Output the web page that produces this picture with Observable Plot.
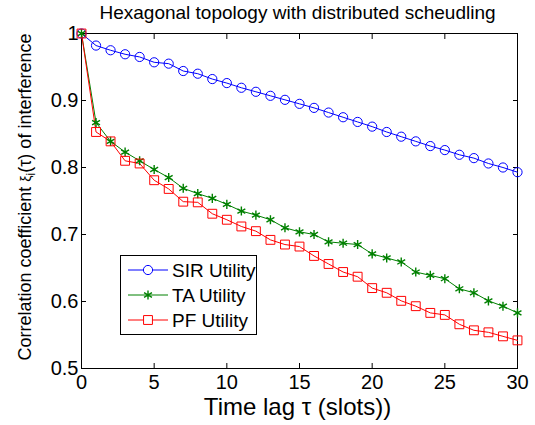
<!DOCTYPE html>
<html>
<head>
<meta charset="utf-8">
<script src="https://cdn.jsdelivr.net/npm/d3@7"></script>
<script src="https://cdn.jsdelivr.net/npm/@observablehq/plot@0.6"></script>
<style>
  html, body { margin: 0; padding: 0; background: #fff; }
  #wrap { position: relative; width: 535px; height: 425px; overflow: hidden; }
  #legend { position: absolute; left: 120px; top: 255px; }
</style>
</head>
<body>
<div id="wrap"></div>
<script>
const title = "Hexagonal topology with distributed scheudling";
const xLabel = "Time lag τ (slots))";
const yLabel = "Correlation coefficient ξi(τ) of interference";
const seriesNames = ["SIR Utility", "TA Utility", "PF Utility"];
const seriesColors = ["#0000ff", "#008000", "#ff0000"];
const seriesSymbols = ["circle", "asterisk", "square"];

const tau = [0,1,2,3,4,5,6,7,8,9,10,11,12,13,14,15,16,17,18,19,20,21,22,23,24,25,26,27,28,29,30];
const sir = [1.000,0.982,0.975,0.969,0.965,0.957,0.955,0.944,0.940,0.932,0.926,0.919,0.913,0.907,0.901,0.895,0.889,0.882,0.875,0.868,0.861,0.853,0.846,0.839,0.832,0.826,0.819,0.814,0.806,0.800,0.793];
const ta  = [1.000,0.867,0.839,0.823,0.810,0.797,0.785,0.769,0.761,0.754,0.745,0.735,0.729,0.722,0.710,0.704,0.700,0.689,0.687,0.685,0.671,0.665,0.659,0.644,0.639,0.634,0.619,0.613,0.601,0.593,0.583];
const pf  = [1.000,0.853,0.839,0.810,0.806,0.781,0.768,0.749,0.748,0.731,0.722,0.712,0.705,0.692,0.685,0.682,0.668,0.656,0.644,0.637,0.620,0.613,0.601,0.593,0.583,0.580,0.566,0.557,0.554,0.548,0.542];

const xTicks = [0, 5, 10, 15, 20, 25, 30];
const yTicks = [0.5, 0.6, 0.7, 0.8, 0.9, 1];

const seriesValues = [sir, ta, pf];
const rows = seriesValues.map((vals, s) => tau.map((t, i) => ({x: t, y: vals[i], s})));
const font = "Arial, 'Liberation Sans', sans-serif";

const lineMarks = rows.map((r, s) => Plot.line(r, {x: "x", y: "y", stroke: seriesColors[s], strokeWidth: 1}));
const dotMarks = rows.map((r, s) => Plot.dot(r, {
  x: "x", y: "y", symbol: () => seriesSymbols[s], stroke: seriesColors[s], fill: "none",
  r: s === 0 ? 4.6 : s === 1 ? 4.3 : 5, strokeWidth: s === 1 ? 1.4 : 1
}));

const chart = Plot.plot({
  width: 535,
  height: 425,
  marginLeft: 81,
  marginRight: 18,
  marginTop: 33,
  marginBottom: 57,
  style: {fontFamily: font, fontSize: "20px", color: "#000", background: "#fff"},
  x: {domain: [0, 30], label: null},
  y: {domain: [0.5, 1], label: null},
  marks: [
    Plot.frame({stroke: "#000", strokeWidth: 1}),
    Plot.axisX(xTicks, {anchor: "bottom", tickSize: -5, tickPadding: 11, label: null, fontSize: 20}),
    Plot.axisX(xTicks, {anchor: "top", tickSize: -5, tickFormat: () => "", label: null}),
    Plot.axisY(yTicks, {anchor: "left", tickSize: -5, tickPadding: 8, tickFormat: d => String(d), label: null, fontSize: 20}),
    Plot.axisY(yTicks, {anchor: "right", tickSize: -5, tickFormat: () => "", label: null}),
    ...lineMarks,
    ...dotMarks,
    Plot.text([title], {frameAnchor: "top", lineAnchor: "middle", dx: -2, dy: -21, fontSize: 19, text: d => d}),
    Plot.text([xLabel], {frameAnchor: "bottom", lineAnchor: "middle", dx: -2, dy: 39, fontSize: 24, text: d => d}),
    Plot.text([yLabel], {frameAnchor: "left", textAnchor: "middle", lineAnchor: "middle", dx: -56, dy: -4, rotate: -90, fontSize: 18, text: d => d})
  ]
});
document.getElementById("wrap").appendChild(chart);

// subscript on ξ_i
d3.select(chart).selectAll("text").each(function() {
  const t = d3.select(this);
  if (t.text() === yLabel) {
    t.text(null);
    t.append("tspan").text("Correlation coefficient ");
    t.append("tspan").text("ξ").style("font-size", "14px");
    t.append("tspan").text("i").attr("dy", "4").style("font-size", "12px");
    t.append("tspan").text("(τ) of interference").attr("dy", "-4");
  }
});

// legend
const lg = d3.select("#wrap").append("svg").attr("id", "legend")
  .attr("width", 138).attr("height", 81);
lg.append("rect").attr("x", 0.5).attr("y", 0.5).attr("width", 136).attr("height", 79)
  .attr("fill", "#fff").attr("stroke", "#000").attr("stroke-width", 1);
const rowY = [15, 40, 65];
const symbolMap = {circle: d3.symbolCircle, asterisk: d3.symbolAsterisk, square: d3.symbolSquare};
const symSize = [Math.PI * 4.6 * 4.6, Math.PI * 4.3 * 4.3, Math.PI * 25];
seriesNames.forEach((name, i) => {
  const g = lg.append("g").attr("transform", `translate(0,${rowY[i]})`);
  g.append("line").attr("x1", 8).attr("x2", 48).attr("y1", 0).attr("y2", 0)
    .attr("stroke", seriesColors[i]).attr("stroke-width", 1);
  g.append("path").attr("d", d3.symbol(symbolMap[seriesSymbols[i]], symSize[i])())
    .attr("transform", "translate(28,0)").attr("fill", "#fff").attr("stroke", seriesColors[i])
    .attr("stroke-width", i === 1 ? 1.4 : 1);
  g.append("text").attr("x", 52).attr("y", 0).attr("dy", "0.35em")
    .attr("font-family", font).attr("font-size", 19).text(name);
});
</script>
</body>
</html>
